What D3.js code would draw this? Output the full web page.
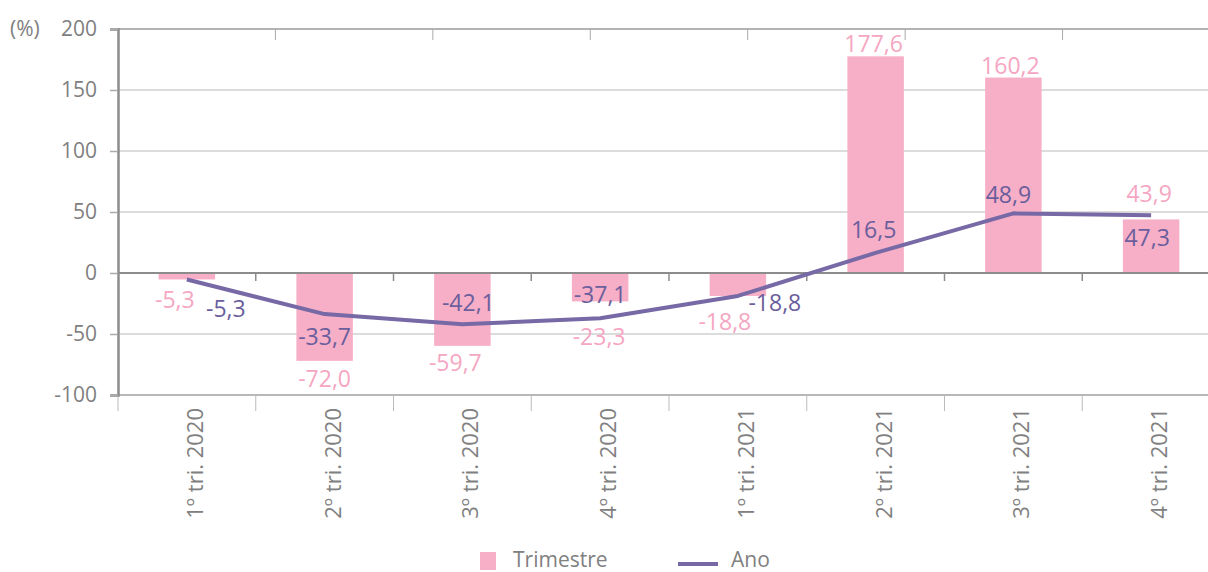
<!DOCTYPE html>
<html>
<head>
<meta charset="utf-8">
<script src="https://cdn.jsdelivr.net/npm/d3@7"></script>
<style>
  body { margin: 0; background: #fff; }
  text { font-family: "Open Sans", sans-serif; }
</style>
</head>
<body>
<div id="chart"></div>
<script>
// data
const quarters = ['1º tri. 2020', '2º tri. 2020', '3º tri. 2020', '4º tri. 2020',
                  '1º tri. 2021', '2º tri. 2021', '3º tri. 2021', '4º tri. 2021'];
const trimestre = [-5.3, -72.0, -59.7, -23.3, -18.8, 177.6, 160.2, 43.9];
const ano = [-5.3, -33.7, -42.1, -37.1, -18.8, 16.5, 48.9, 47.3];
const yTicks = [-100, -50, 0, 50, 100, 150, 200];

// label nudges (dx, dy from the mark end / point)
const barLabelOffsets = [[-12, 20], [0, 18], [-7, 17], [-1, 36], [-13, 26], [-2, -12], [-3, -12], [-2, -25]];
const lineLabelOffsets = [[39, 29], [0, 23], [6, -21], [0, -23], [37, 7], [-2, -23], [-5, -18], [-4, 23]];

const svgWidth = 1208, svgHeight = 572;
const plot = { left: 118, right: 1220, top: 29, bottom: 395 };

const pink = '#f7aec7', purple = '#7669a5';
const pinkText = '#f5a6c2', purpleText = '#6a5e9c';
const axisText = '#808080';

const fmt = v => d3.format('.1f')(v).replace('.', ',').replace('−', '-');

const svg = d3.select('#chart').append('svg')
  .attr('width', svgWidth)
  .attr('height', svgHeight);

const x = d3.scaleBand()
  .domain(quarters)
  .range([plot.left, plot.right]);

const y = d3.scaleLinear()
  .domain([-100, 200])
  .range([plot.bottom, plot.top]);

const barW = x.step() * 0.41;
const cx = d => x(d) + x.bandwidth() / 2;

// gridlines
svg.append('g')
  .selectAll('line')
  .data(yTicks.filter(t => t !== 0 && t !== 200 && t !== -100))
  .enter().append('line')
  .attr('x1', plot.left).attr('x2', svgWidth)
  .attr('y1', d => y(d)).attr('y2', d => y(d))
  .attr('stroke', '#d0d0d0').attr('stroke-width', 1.5);

// top border + secondary ticks
svg.append('line')
  .attr('x1', plot.left).attr('x2', svgWidth)
  .attr('y1', y(200)).attr('y2', y(200))
  .attr('stroke', '#9a9a9a').attr('stroke-width', 1.5);

const xTop = d3.scaleLinear().domain([0, 7]).range([plot.left, plot.right]);
svg.append('g')
  .selectAll('line')
  .data(d3.range(1, 7))
  .enter().append('line')
  .attr('x1', d => xTop(d)).attr('x2', d => xTop(d))
  .attr('y1', y(200)).attr('y2', y(200) + 11)
  .attr('stroke', '#aaaaaa').attr('stroke-width', 1);

// bottom line and ticks
svg.append('line')
  .attr('x1', plot.left).attr('x2', svgWidth)
  .attr('y1', y(-100)).attr('y2', y(-100))
  .attr('stroke', '#a0a0a0').attr('stroke-width', 1.5);

svg.append('g')
  .selectAll('line')
  .data(quarters)
  .enter().append('line')
  .attr('x1', d => x(d)).attr('x2', d => x(d))
  .attr('y1', y(-100)).attr('y2', y(-100) + 16)
  .attr('stroke', '#bbbbbb').attr('stroke-width', 1);

// bars
svg.append('g')
  .selectAll('rect')
  .data(quarters)
  .enter().append('rect')
  .attr('x', d => cx(d) - barW / 2)
  .attr('width', barW)
  .attr('y', (d, i) => y(Math.max(0, trimestre[i])))
  .attr('height', (d, i) => Math.abs(y(trimestre[i]) - y(0)))
  .attr('fill', pink);

// zero axis with ticks
svg.append('line')
  .attr('x1', plot.left).attr('x2', svgWidth)
  .attr('y1', y(0)).attr('y2', y(0))
  .attr('stroke', '#8c8c8c').attr('stroke-width', 2);

svg.append('g')
  .selectAll('line')
  .data(quarters.slice(1))
  .enter().append('line')
  .attr('x1', d => x(d)).attr('x2', d => x(d))
  .attr('y1', y(0)).attr('y2', y(0) + 8)
  .attr('stroke', '#8c8c8c').attr('stroke-width', 1.5);

// left axis
const yAxis = svg.append('g')
  .attr('transform', `translate(${plot.left},0)`)
  .call(d3.axisLeft(y).tickValues(yTicks).tickSize(8).tickPadding(13));
yAxis.select('.domain').attr('stroke', '#8c8c8c').attr('stroke-width', 2.5);
yAxis.selectAll('.tick line').attr('stroke', '#aaaaaa').attr('stroke-width', 1.5);
yAxis.selectAll('.tick text')
  .attr('fill', axisText)
  .style('font-size', '21px')
  .style('font-family', '"Open Sans", sans-serif')
  .text(d => d3.format('d')(d).replace('−', '-'));

svg.append('text')
  .attr('x', 10).attr('y', y(200))
  .attr('dy', '0.35em')
  .attr('fill', axisText)
  .style('font-size', '21px')
  .text('(%)');

// x labels rotated
svg.append('g')
  .selectAll('text')
  .data(quarters)
  .enter().append('text')
  .attr('transform', d => `translate(${cx(d) + 16}, 408) rotate(-90)`)
  .attr('text-anchor', 'end')
  .attr('fill', axisText)
  .style('font-size', '22px')
  .text(d => d);

// line
const line = d3.line()
  .x((d, i) => cx(quarters[i]))
  .y(d => y(d));

svg.append('path')
  .datum(ano)
  .attr('d', line)
  .attr('fill', 'none')
  .attr('stroke', purple)
  .attr('stroke-width', 4)
  .attr('stroke-linejoin', 'round');

// bar labels
svg.append('g')
  .selectAll('text')
  .data(trimestre)
  .enter().append('text')
  .attr('x', (d, i) => cx(quarters[i]) + barLabelOffsets[i][0])
  .attr('y', (d, i) => y(d) + barLabelOffsets[i][1])
  .attr('dy', '0.35em')
  .attr('text-anchor', 'middle')
  .attr('fill', pinkText)
  .style('font-size', '23px')
  .text(d => fmt(d));

// line labels
svg.append('g')
  .selectAll('text')
  .data(ano)
  .enter().append('text')
  .attr('x', (d, i) => cx(quarters[i]) + lineLabelOffsets[i][0])
  .attr('y', (d, i) => y(d) + lineLabelOffsets[i][1])
  .attr('dy', '0.35em')
  .attr('text-anchor', 'middle')
  .attr('fill', purpleText)
  .style('font-size', '23px')
  .text(d => fmt(d));

// legend
const legend = svg.append('g');
legend.append('rect')
  .attr('x', 480).attr('y', 552)
  .attr('width', 16).attr('height', 18)
  .attr('fill', pink);
legend.append('text')
  .attr('x', 513).attr('y', 567)
  .attr('fill', axisText)
  .style('font-size', '21px')
  .text('Trimestre');
legend.append('line')
  .attr('x1', 678).attr('x2', 718)
  .attr('y1', 564).attr('y2', 564)
  .attr('stroke', purple).attr('stroke-width', 4);
legend.append('text')
  .attr('x', 731).attr('y', 567)
  .attr('fill', axisText)
  .style('font-size', '21px')
  .text('Ano');
</script>
</body>
</html>
